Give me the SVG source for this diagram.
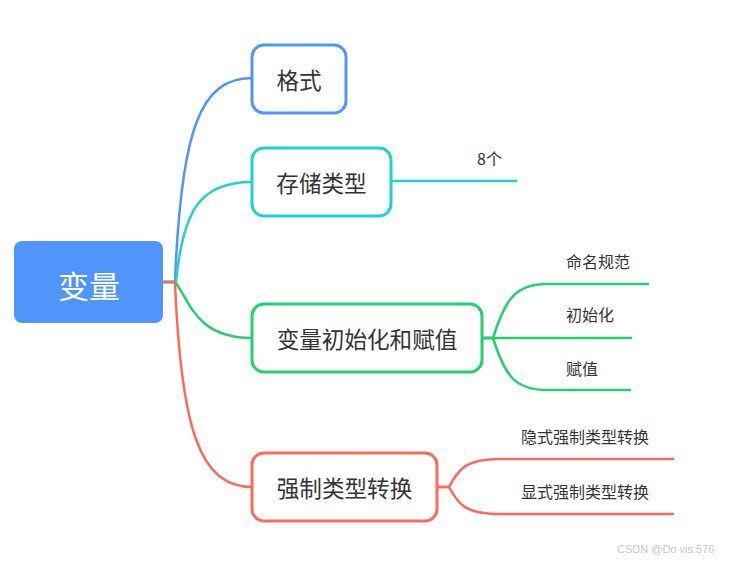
<svg xmlns="http://www.w3.org/2000/svg" width="738" height="561" viewBox="0 0 738 561">
<style>
text{font-family:"Noto Sans CJK SC","Liberation Sans",sans-serif;fill:#333}
.box{fill:#fff;stroke-width:3}
.lbl{font-size:22.6px;text-anchor:middle;dominant-baseline:central}
.sub{font-size:16px}
.ln{fill:none;stroke-width:2.5}
</style>
<rect width="738" height="561" fill="#fff"/>
<g id="connectors">
<path class="ln" stroke="#4f95fb" d="M163 282 L175 282 C181 130 200 78 252 78"/>
<path class="ln" stroke="#1fd3ce" d="M163 282 L176 282 C183 210 200 182 252 182"/>
<path class="ln" stroke="#21d170" d="M163 282 L175 282 C190 300 195 338 252 338"/>
<path class="ln" stroke="#fb6a5c" d="M163 282 L175 282 C181 430 200 487 252 487"/>
<path class="ln" stroke="#1fd3ce" stroke-width="3" d="M391 181 L517 181"/>
<path class="ln" stroke="#21d170" d="M482 338 L493 338 C505 300 515 284 547 284 L649 284"/>
<path class="ln" stroke="#21d170" d="M482 338 L632 338"/>
<path class="ln" stroke="#21d170" d="M482 338 L493 338 C505 376 515 390 547 390 L631 390"/>
<path class="ln" stroke="#fb6a5c" d="M437 487 L449 487 C458 470 465 459 500 459 L674 459"/>
<path class="ln" stroke="#fb6a5c" d="M437 487 L449 487 C458 504 465 514 500 514 L674 514"/>
</g>
<g id="root">
<rect x="14" y="241" width="149" height="82" rx="8" fill="#4f95fb"/>
<text x="89" y="284" style="font-size:31px;fill:#fff;text-anchor:middle;dominant-baseline:central">变量</text>
</g>
<g id="n-format">
<rect class="box" x="252" y="45" width="94" height="68" rx="12" stroke="#4f95fb"/>
<text class="lbl" x="299" y="79">格式</text>
</g>
<g id="n-storage">
<rect class="box" x="252" y="148" width="139" height="68" rx="12" stroke="#1fd3ce"/>
<text class="lbl" x="321.5" y="182">存储类型</text>
</g>
<g id="n-storage-8">
<text class="sub" x="477" y="165">8个</text>
</g>
<g id="n-init">
<rect class="box" x="252" y="304" width="230" height="68" rx="12" stroke="#21d170"/>
<text class="lbl" x="367" y="338">变量初始化和赋值</text>
</g>
<g id="n-naming"><text class="sub" x="566" y="268">命名规范</text></g>
<g id="n-initialize"><text class="sub" x="566" y="321">初始化</text></g>
<g id="n-assign"><text class="sub" x="566" y="375">赋值</text></g>
<g id="n-cast">
<rect class="box" x="252" y="453" width="185" height="68" rx="12" stroke="#fb6a5c"/>
<text class="lbl" x="344.5" y="487">强制类型转换</text>
</g>
<g id="n-implicit"><text class="sub" x="521" y="443">隐式强制类型转换</text></g>
<g id="n-explicit"><text class="sub" x="521" y="498">显式强制类型转换</text></g>
<text x="617" y="553" style="font-size:11px;fill:#c8c8c8;font-family:'Liberation Sans',sans-serif">CSDN @Do vis.576</text>
</svg>
